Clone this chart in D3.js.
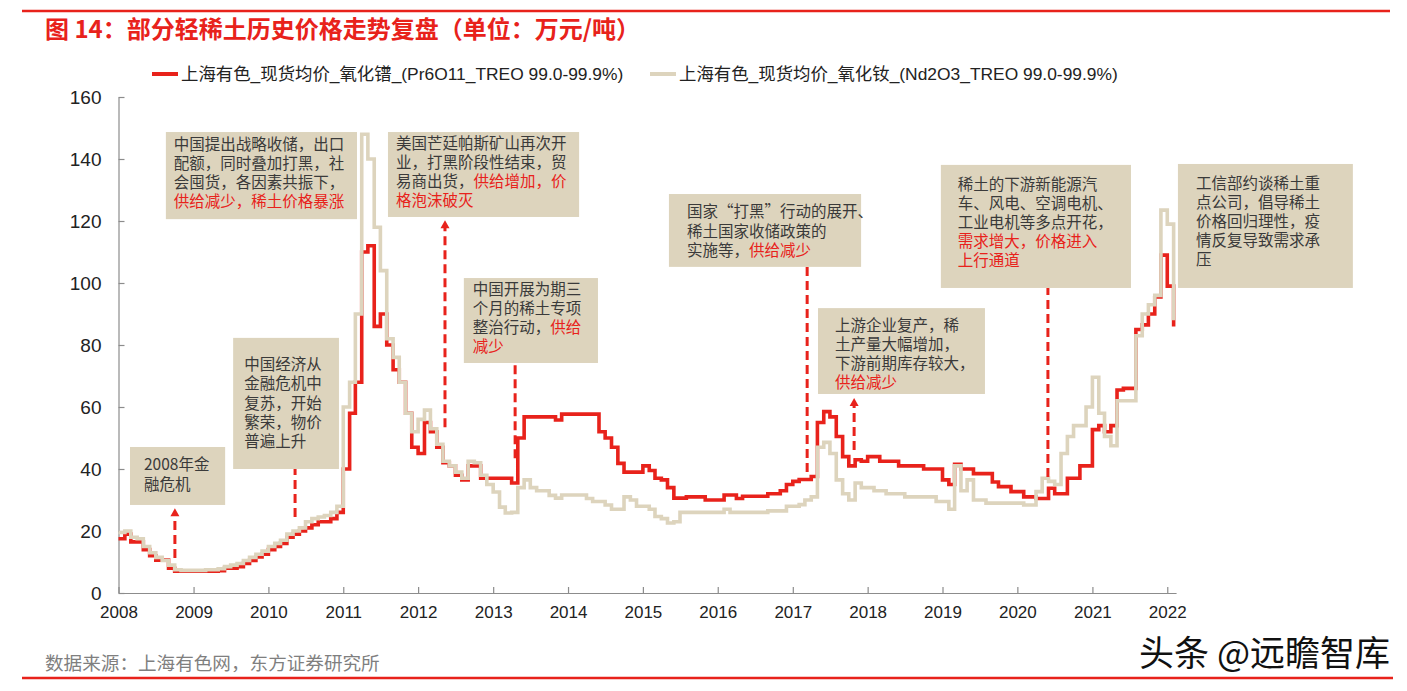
<!DOCTYPE html>
<html><head><meta charset="utf-8">
<script src="https://cdn.jsdelivr.net/npm/d3@7"></script>
<style>
body{margin:0;background:#fff;}
svg{display:block;}
</style></head>
<body><svg id="chart" width="1407" height="691"></svg>
<script>
// ---------------- data ----------------
const titleText = "图 14：部分轻稀土历史价格走势复盘（单位：万元/吨）";
const sourceText = "数据来源：上海有色网，东方证券研究所";
const watermarkText = "头条 @远瞻智库";
const seriesNames = [
  "上海有色_现货均价_氧化镨_(Pr6O11_TREO 99.0-99.9%)",
  "上海有色_现货均价_氧化钕_(Nd2O3_TREO 99.0-99.9%)"
];
const startMonth = "2008-01";
// 氧化镨 monthly, 2008-01 .. 2022-02 (万元/吨)
const prValues = [
  17.5,19,16.5,16.5,14,12,10.6,10.6,8,7,7,7,
  7,7,7,7,7.2,8,8,8.5,9.5,10.5,11.6,12.5,
  14,15,16,18,19,20,21,22,23,23,24,26,
  40,58,68,110,112,86,90,80,72,68,58,47,
  45,55,52,47,42,41,38,36.5,41,41,37,37,
  37,37,37,35.5,50,56.8,56.8,56.8,56.8,56.8,55.8,57.7,
  57.7,57.7,57.7,57.7,57.7,52,50,47,41.8,39,39,39,
  41,39.5,37,36.5,34,30.6,30.6,31,31,31,30,30,
  30,31.6,31.6,30.5,31.2,31.2,31.2,31.2,32,32,33,35,
  36,36.6,36.6,37.6,55,58.5,56.8,50.5,44,41,43,42.5,
  44,44,42.5,42.5,42.5,41,41,41,41,40,40,40,
  36.5,35,41.5,40,40,38.5,38.5,38.5,35.8,34.3,34.3,32.7,
  32.7,31,31,30.5,30.5,33.8,32,32,37,37,41,41,
  52.7,54,52,54,65.5,66,66,85,86.5,90,95.5,109,
  99,86
];
// 氧化钕 monthly, 2008-01 .. 2022-02 (万元/吨)
const ndValues = [
  19.5,20,18,17.5,15,13,11.5,10.5,9,7.5,7.3,7.3,
  7.3,7.3,7.5,7.5,7.8,8.5,9,9.5,10.5,11.5,12.5,13.5,
  15,16,17,19,20,21,23,24,24.5,25,26,28,
  60,68,90,148,140,118,104,82,76,68,58,52,
  56,59,53,48,42.5,41,39,37,42.5,42,38,35,
  32.6,27.7,25.8,26,34,36.5,34,33,33,31.5,30.6,31.6,
  31.6,31.6,31.6,30.5,29.5,29.5,28.4,27,27,31,30,28,
  28,27,24.7,24,22.6,23,26,26,26,26,26,26,
  26,27,26,26,26,26,26,26,26.5,26.5,26.5,28,
  28,28.5,30,31,47,48.6,45,36.5,32,30,35.5,34,
  34,33,33,32,32,32,31,31,31,31,31,29.5,
  29.5,27,41,33,36.5,30,30,29,29,29,29,29,
  29,28.4,28.4,32.7,37,36,35,45,50.5,54,54,60,
  69.6,58,50.5,47.5,62,62,62,83,90,93,96,123.5,
  119,88
];
const yTicks = [0,20,40,60,80,100,120,140,160];
const xTickYears = [2008,2009,2010,2011,2012,2013,2014,2015,2016,2017,2018,2019,2020,2021,2022];

// annotation texts: each line is a list of [text, highlight]
const noteTexts = [
  [[["2008年金",0]],[["融危机",0]]],
  [[["中国经济从",0]],[["金融危机中",0]],[["复苏，开始",0]],[["繁荣，物价",0]],[["普遍上升",0]]],
  [[["中国提出战略收储，出口",0]],[["配额，同时叠加打黑，社",0]],[["会囤货，各因素共振下，",0]],[["供给减少，稀土价格暴涨",1]]],
  [[["美国芒廷帕斯矿山再次开",0]],[["业，打黑阶段性结束，贸",0]],[["易商出货，",0],["供给增加，价",1]],[["格泡沫破灭",1]]],
  [[["中国开展为期三",0]],[["个月的稀土专项",0]],[["整治行动，",0],["供给",1]],[["减少",1]]],
  [[["国家“打黑”行动的展开、",0]],[["稀土国家收储政策的",0]],[["实施等，",0],["供给减少",1]]],
  [[["上游企业复产，稀",0]],[["土产量大幅增加，",0]],[["下游前期库存较大，",0]],[["供给减少",1]]],
  [[["稀土的下游新能源汽",0]],[["车、风电、空调电机、",0]],[["工业电机等多点开花，",0]],[["需求增大，价格进入",1]],[["上行通道",1]]],
  [[["工信部约谈稀土重",0]],[["点公司，倡导稀土",0]],[["价格回归理性，疫",0]],[["情反复导致需求承",0]],[["压",0]]]
];

// ---------------- layout (in chart units: decimal years / 万元) ----------------
const noteBoxes = [
  {x0:2008.154,x1:2009.422,top:47.1,bottom:28.4,pad:14,first:18,lh:20},
  {x0:2009.529,x1:2010.944,top:82.3,bottom:40.0,pad:11,first:27,lh:19.2},
  {x0:2008.634,x1:2011.184,top:148.7,bottom:120.6,pad:8,first:13,lh:19},
  {x0:2011.598,x1:2014.148,top:148.7,bottom:121.3,pad:8,first:11.5,lh:19},
  {x0:2012.613,x1:2014.402,top:101.6,bottom:74.2,pad:9,first:12,lh:19},
  {x0:2015.350,x1:2017.913,top:128.7,bottom:105.2,pad:18,first:17.7,lh:19.5},
  {x0:2017.339,x1:2019.569,top:91.9,bottom:64.2,pad:17,first:17.7,lh:19},
  {x0:2018.980,x1:2021.517,top:138.1,bottom:98.4,pad:17,first:20,lh:19},
  {x0:2022.145,x1:2024.480,top:138.4,bottom:98.4,pad:18,first:20,lh:19}
];
const connectors = [
  {at:2008.754, from:11.3, to:27.7, arrow:true},
  {at:2010.357, from:24.5, to:40.0, arrow:false},
  {at:2012.359, from:53.5, to:120.6, arrow:true},
  {at:2013.293, from:43.5, to:74.2, arrow:false},
  {at:2017.192, from:39.0, to:105.2, arrow:false},
  {at:2017.820, from:46.1, to:63.2, arrow:true},
  {at:2020.410, from:37.4, to:98.4, arrow:false}
];

// ---------------- drawing ----------------
const RED = "#e8221b", BEIGE = "#ddd4bd", BOX = "#ddd4bd";
const LATIN = "'Liberation Sans', Arial, 'Noto Sans CJK SC', sans-serif";
const CJK = "'Noto Sans CJK SC', 'Liberation Sans', sans-serif";

const svg = d3.select("#chart");
const parseMonth = d3.timeParse("%Y-%m");
const t0 = parseMonth(startMonth);
const yd = v => { const yr = Math.floor(v); return new Date(yr, 0, 1 + (v - yr) * 365.25); };

const x = d3.scaleTime().domain([new Date(2008,0,1), yd(2022.12)]).range([118.5, 118.5 + 14.12*74.9]);
const y = d3.scaleLinear().domain([0,160]).range([593, 97]);

// frame lines
svg.append("line").attr("x1",22).attr("x2",1390).attr("y1",11).attr("y2",11).attr("stroke",RED).attr("stroke-width",2.5);
svg.append("line").attr("x1",22).attr("x2",1393).attr("y1",678).attr("y2",678).attr("stroke",RED).attr("stroke-width",2.5);

svg.append("text").attr("x",45).attr("y",38).attr("fill",RED).attr("font-weight","bold")
  .attr("font-size",24).attr("font-family",CJK).text(titleText);

// axes
const gx = svg.append("g").attr("transform","translate(0,593)")
  .call(d3.axisBottom(x).tickValues(xTickYears.map(v=>new Date(v,0,1))).tickFormat(d3.timeFormat("%Y"))
    .tickSize(-6).tickSizeOuter(0).tickPadding(13));
const gy = svg.append("g").attr("transform","translate(118.5,0)")
  .call(d3.axisLeft(y).tickValues(yTicks).tickSize(-6).tickSizeOuter(0).tickPadding(17));
[gx,gy].forEach(g=>{
  g.selectAll("path,line").attr("stroke","#8c8c8c").attr("stroke-width",1.2);
  g.selectAll("text").attr("fill","#222").attr("font-family",LATIN);
});
gx.selectAll("text").attr("font-size",17);
gy.selectAll("text").attr("font-size",19).attr("dy","0.36em");

// series
const prData = prValues.map((v,i)=>({date:d3.timeMonth.offset(t0,i), v}));
const ndData = ndValues.map((v,i)=>({date:d3.timeMonth.offset(t0,i), v}));
const line = d3.line().x(d=>x(d.date)).y(d=>y(d.v)).curve(d3.curveStepAfter);
svg.append("path").datum(prData).attr("d",line).attr("fill","none").attr("stroke",RED).attr("stroke-width",3.6);
svg.append("path").datum(ndData).attr("d",line).attr("fill","none").attr("stroke",BEIGE).attr("stroke-width",3.6);

// annotation boxes (one text element per box, lines as tspans)
noteBoxes.forEach((b,i)=>{
  const bx = x(yd(b.x0)), bw = x(yd(b.x1)) - bx, by = y(b.top), bh = y(b.bottom) - by;
  svg.append("rect").attr("x",bx).attr("y",by).attr("width",bw).attr("height",bh).attr("fill",BOX);
  const t = svg.append("text").attr("x",bx+b.pad).attr("y",by+b.first)
    .attr("font-size",15.5).attr("font-family",CJK);
  noteTexts[i].forEach((ln,j)=>{
    ln.forEach(([s,h],k)=>{
      const sp = t.append("tspan").attr("fill",h?RED:"#3a3a3a").text(s);
      if(k===0) sp.attr("x",bx+b.pad).attr("y",by+b.first+j*b.lh).attr("dy","0.35em");
    });
  });
});

// connectors
connectors.forEach(c=>{
  const cx = x(yd(c.at)), y1 = y(c.from), y2 = y(c.to);
  svg.append("line").attr("x1",cx).attr("x2",cx).attr("y1",y1).attr("y2",c.arrow? y2+8 : y2)
    .attr("stroke",RED).attr("stroke-width",3).attr("stroke-dasharray","9,5");
  if(c.arrow){
    svg.append("path").attr("d",`M${cx-4.5},${y2+9}L${cx+4.5},${y2+9}L${cx},${y2+1}Z`).attr("fill",RED);
  }
});

// legend
const legendX = [152, 650];
[RED, BEIGE].forEach((col,i)=>{
  svg.append("line").attr("x1",legendX[i]).attr("x2",legendX[i]+26).attr("y1",74).attr("y2",74)
    .attr("stroke",col).attr("stroke-width",4);
  svg.append("text").attr("x",legendX[i]+29).attr("y",74).attr("dy","0.35em").attr("font-size",17.4)
    .attr("fill","#222").attr("font-family",LATIN).text(seriesNames[i]);
});

// source and watermark
svg.append("text").attr("x",45).attr("y",663).attr("dy","0.35em").attr("font-size",18.6)
  .attr("fill","#7f7f7f").attr("font-family",CJK).text(sourceText);
svg.append("text").attr("x",1390).attr("y",654).attr("dy","0.35em").attr("text-anchor","end").attr("font-size",35)
  .attr("fill","#111").attr("font-family",CJK).text(watermarkText);
</script>
</body></html>
